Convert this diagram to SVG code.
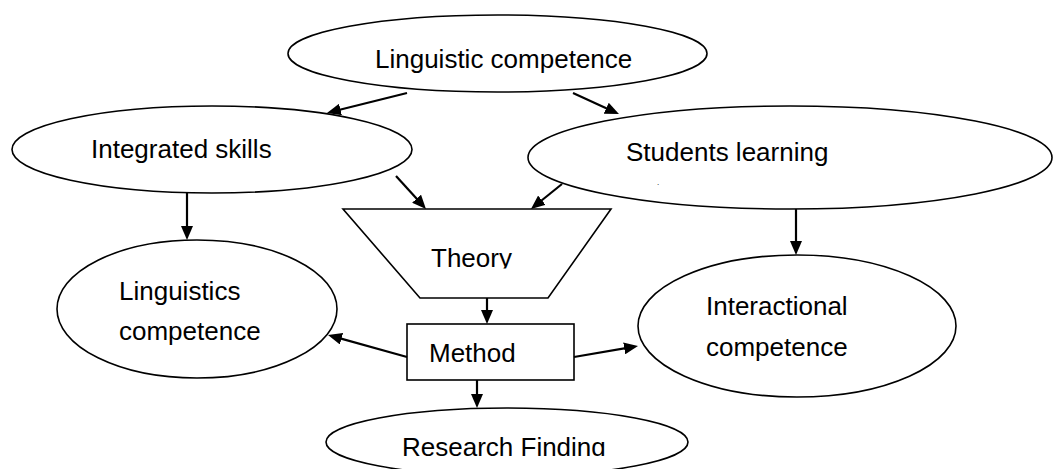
<svg xmlns="http://www.w3.org/2000/svg" width="1054" height="469" viewBox="0 0 1054 469">
<style>
.shape{fill:#fff;stroke:#000;stroke-width:1.6}
.lbl{font-family:"Liberation Sans",Arial,sans-serif;font-size:26px;fill:#000}
.arr{stroke:#000;stroke-width:2.2;fill:none;marker-end:url(#ah)}
</style>
<defs>
<marker id="ah" viewBox="0 0 14 12" refX="6" refY="6" markerWidth="14" markerHeight="12" markerUnits="userSpaceOnUse" orient="auto">
<path d="M0,0 L14,6 L0,12 z" fill="#000"/>
</marker>
<clipPath id="clipTheory"><rect x="0" y="0" width="1054" height="268.5"/></clipPath>
<clipPath id="clipRF"><rect x="0" y="0" width="1054" height="456"/></clipPath>
</defs>
<rect width="1054" height="469" fill="#fff"/>
<g id="linguistic-competence">
<ellipse class="shape" cx="497.5" cy="53.5" rx="209.5" ry="38.5"/>
<text class="lbl" x="375" y="68">Linguistic competence</text>
</g>
<g id="integrated-skills">
<ellipse class="shape" cx="212" cy="149.5" rx="200" ry="43.5"/>
<text class="lbl" x="91" y="158">Integrated skills</text>
</g>
<g id="students-learning">
<ellipse class="shape" cx="790" cy="157.5" rx="262" ry="51.5"/>
<text class="lbl" x="626" y="161">Students learning</text>
<text class="lbl" x="657" y="185" style="font-size:8px">.</text>
</g>
<g id="theory">
<polygon class="shape" points="343,209 611,209 548,298 420,298"/>
<text class="lbl" x="431" y="267" clip-path="url(#clipTheory)">Theory</text>
</g>
<g id="method">
<rect class="shape" x="407" y="324" width="167" height="56"/>
<text class="lbl" x="429" y="362">Method</text>
</g>
<g id="linguistics-competence">
<ellipse class="shape" cx="197" cy="309" rx="140" ry="69"/>
<text class="lbl" x="119" y="300">Linguistics</text>
<text class="lbl" x="119" y="340">competence</text>
</g>
<g id="interactional-competence">
<ellipse class="shape" cx="797" cy="326" rx="159" ry="71"/>
<text class="lbl" x="706" y="315">Interactional</text>
<text class="lbl" x="706" y="356">competence</text>
</g>
<g id="research-finding">
<ellipse class="shape" cx="507" cy="442" rx="181" ry="34"/>
<text class="lbl" x="402" y="456" clip-path="url(#clipRF)">Research Finding</text>
</g>
<g id="connectors">
<line class="arr" x1="407" y1="93" x2="334.7" y2="111"/>
<line class="arr" x1="573" y1="93" x2="611.7" y2="110.7"/>
<line class="arr" x1="396" y1="176" x2="420.6" y2="203.1"/>
<line class="arr" x1="562" y1="184" x2="537.2" y2="204"/>
<line class="arr" x1="187" y1="193" x2="187" y2="232"/>
<line class="arr" x1="796" y1="209" x2="796" y2="247"/>
<line class="arr" x1="407" y1="357" x2="335.7" y2="337.1"/>
<line class="arr" x1="574" y1="357" x2="630.1" y2="347.4"/>
<line class="arr" x1="487" y1="298" x2="487" y2="316"/>
<line class="arr" x1="477" y1="380" x2="477" y2="400"/>
</g>
</svg>
